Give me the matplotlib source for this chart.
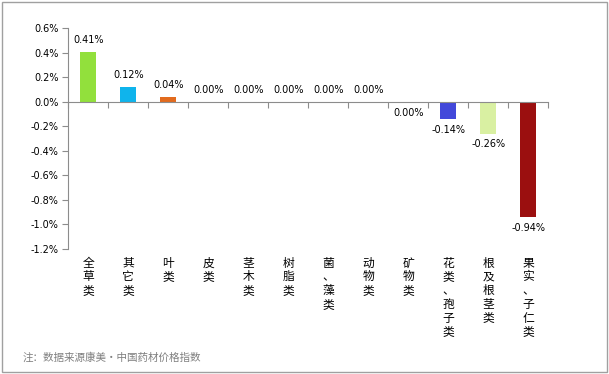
import matplotlib
matplotlib.use('Agg')
import matplotlib.pyplot as plt
from matplotlib.patches import Rectangle
from matplotlib.transforms import blended_transform_factory

plt.rcParams['font.family'] = ['Noto Sans CJK SC', 'DejaVu Sans']

# data (weekly change of price index, %)
categories = ['全草类', '其它类', '叶类', '皮类', '茎木类', '树脂类', '菌、藻类',
              '动物类', '矿物类', '花类、孢子类', '根及根茎类', '果实、子仁类']
values = [0.41, 0.12, 0.04, 0.00, 0.00, 0.00, 0.00, 0.00, -0.001, -0.14, -0.26, -0.94]
colors = ['#92E03C', '#0FB4EC', '#E26B1E', '#92D050', '#92D050', '#92D050', '#92D050',
          '#92D050', '#92D050', '#4248DA', '#D9F0A2', '#9B0F0F']
yticks = [0.6, 0.4, 0.2, 0.0, -0.2, -0.4, -0.6, -0.8, -1.0, -1.2]

fig = plt.figure(figsize=(6.09, 3.74), dpi=100)
ax = fig.add_axes([68.3 / 609, 1 - 249 / 374, 480 / 609, 220.7 / 374])

x = list(range(len(categories)))
ax.bar(x, values, width=0.4, color=colors, zorder=2)

ax.set_xlim(-0.5, len(categories) - 0.5)
ax.set_ylim(-1.2, 0.6)

# axes styling
grey = '#8c8c8c'
for s in ['top', 'right']:
    ax.spines[s].set_visible(False)
ax.spines['left'].set_color(grey)
ax.spines['bottom'].set_color(grey)
ax.spines['bottom'].set_position(('data', 0))

ax.set_yticks(yticks)
ax.set_yticklabels([f'{v:.1f}%' for v in yticks], family='DejaVu Sans', fontsize=7)
ax.tick_params(axis='y', length=4, color=grey, pad=3)

ax.set_xticks([i - 0.5 for i in range(len(categories) + 1)])
ax.set_xticklabels([])
ax.tick_params(axis='x', length=4, color=grey, direction='out')

# value labels
for xi, v in zip(x, values):
    s = f'{v:.2f}%'
    if s == '-0.00%':
        s = '0.00%'
    if v >= 0:
        ax.annotate(s, (xi, v), xytext=(0, 5), textcoords='offset points',
                    ha='center', va='bottom', fontsize=7, family='DejaVu Sans')
    else:
        ax.annotate(s, (xi, v), xytext=(0, -4), textcoords='offset points',
                    ha='center', va='top', fontsize=7, family='DejaVu Sans')

# category labels, written vertically
trans = blended_transform_factory(ax.transData, ax.transAxes)
for xi, c in zip(x, categories):
    ax.text(xi, -0.035, '\n'.join(c), transform=trans, ha='center', va='top',
            fontsize=8.5, linespacing=1.07, family=['Noto Sans CJK SC', 'DejaVu Sans'])

# note
fig.text(23 / 609, 1 - 357 / 374, '注：数据来源康美•中国药材价格指数', ha='left', va='center',
         fontsize=7.6, color='#7f7f7f', family=['Noto Sans CJK SC', 'DejaVu Sans'])

# outer frame
fig.add_artist(Rectangle((1.5 / 609, 2 / 374), 605 / 609, 370 / 374, transform=fig.transFigure,
                         fill=False, edgecolor='#a0a0a0', linewidth=1))

fig.savefig('out.png', dpi=100)
